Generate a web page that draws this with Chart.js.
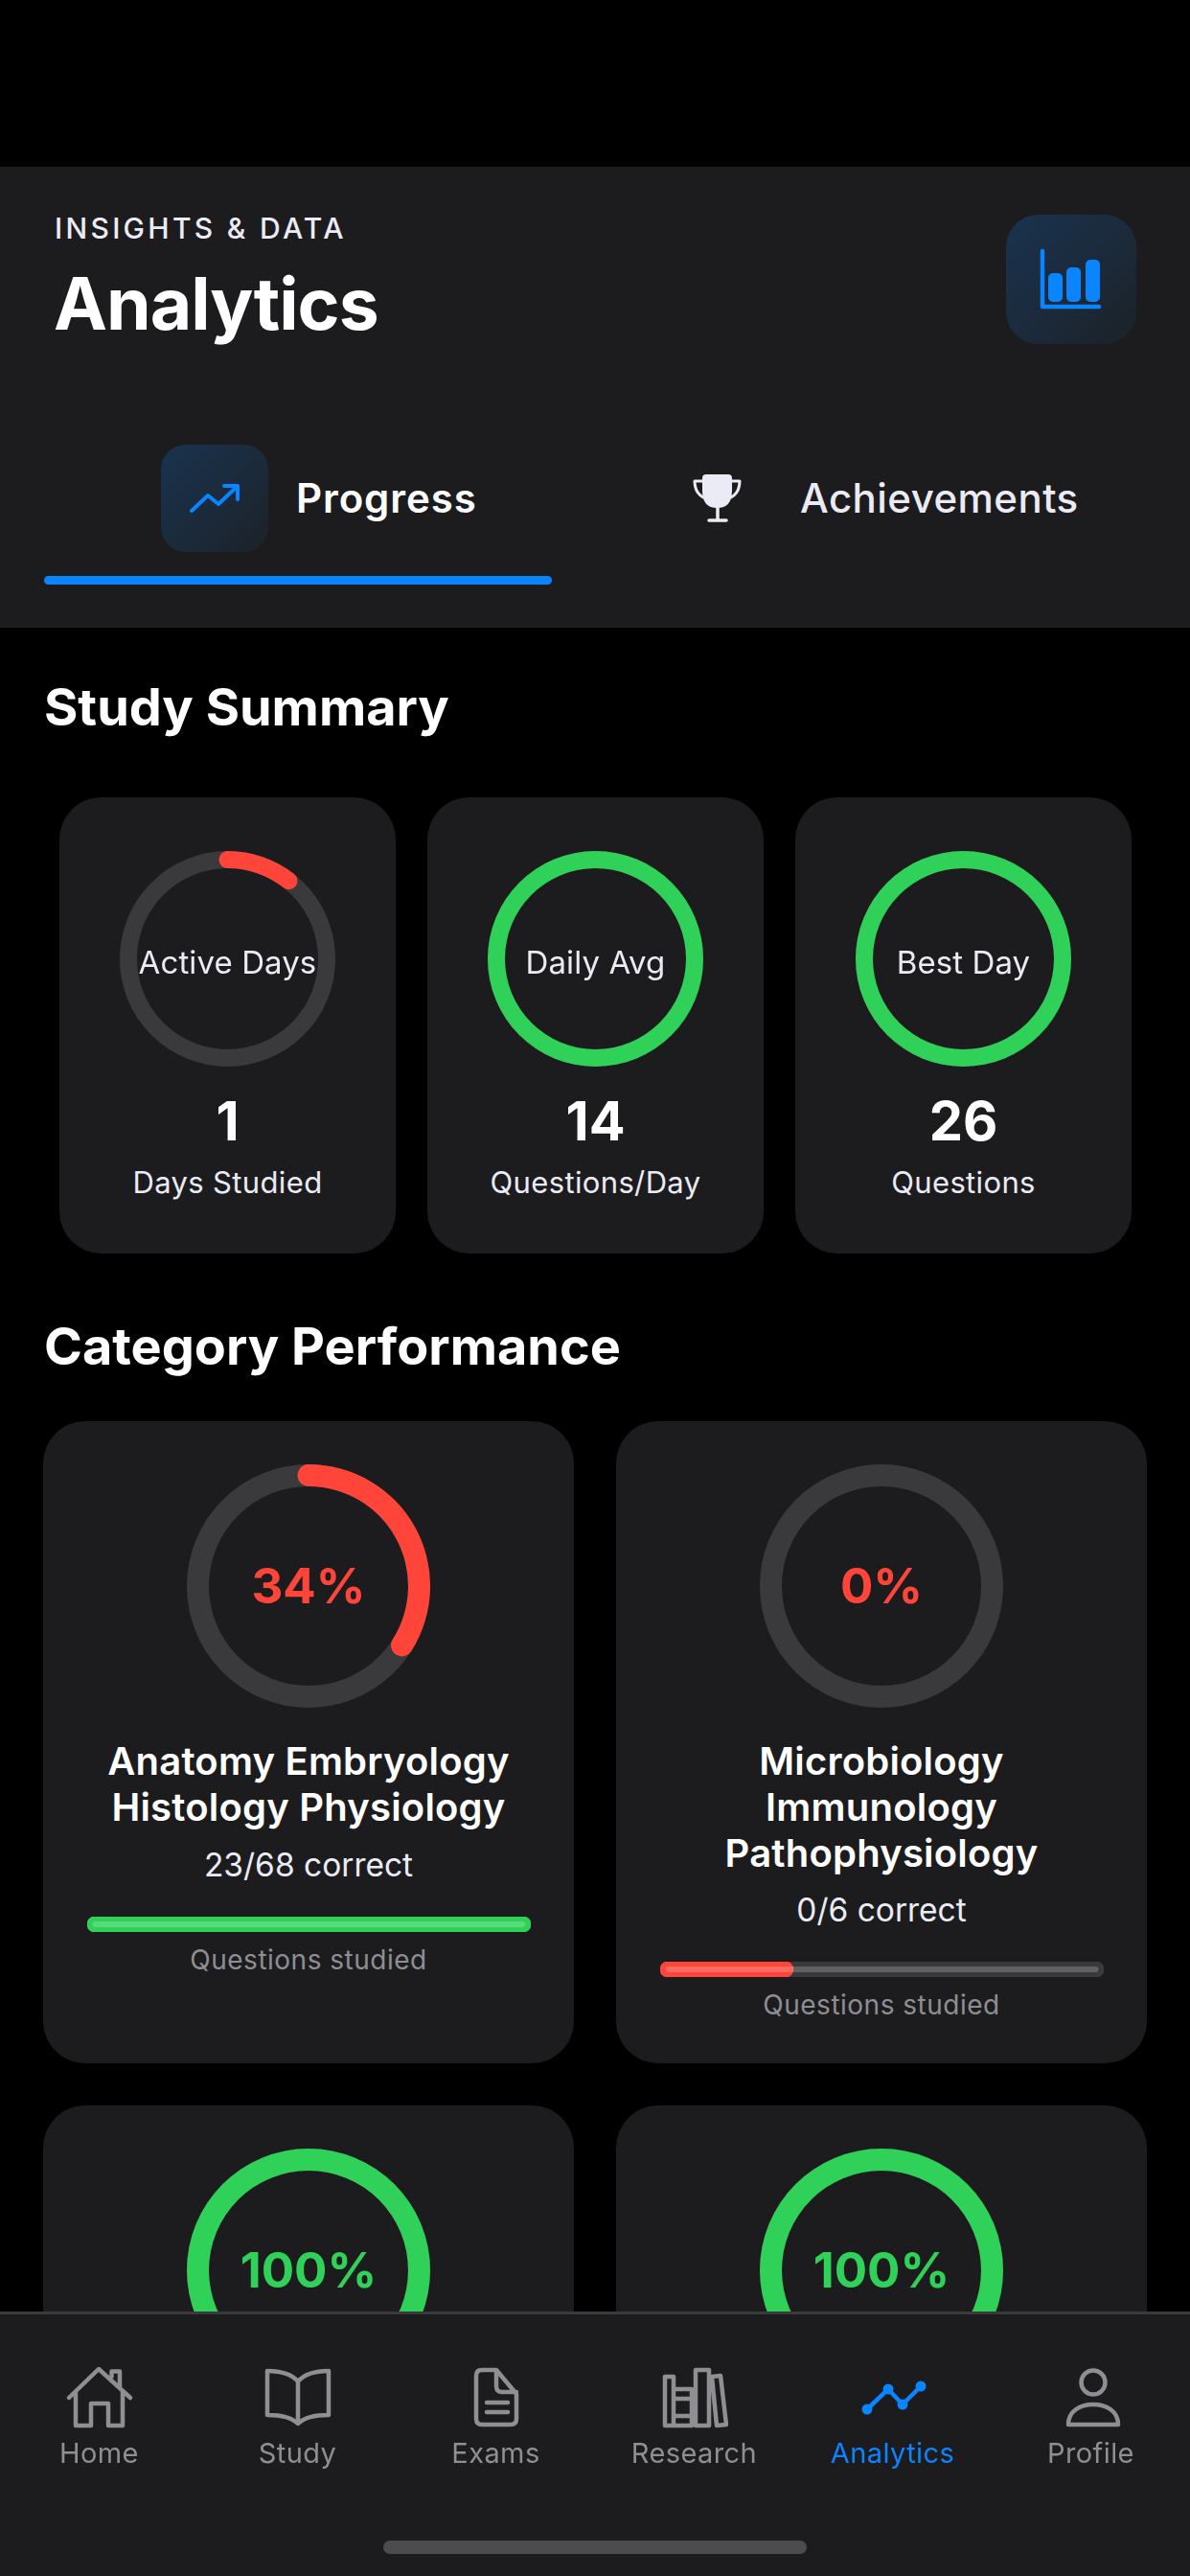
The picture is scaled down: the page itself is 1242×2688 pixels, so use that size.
<!DOCTYPE html>
<html>
<head>
<meta charset="utf-8">
<title>Analytics</title>
<script src="https://cdn.jsdelivr.net/npm/chart.js@4/dist/chart.umd.min.js"></script>
<style>
  html, body { margin: 0; padding: 0; background: #000; }
  body { position: relative; width: 1242px; height: 2688px; overflow: hidden; font-family: Inter, "Noto Sans", sans-serif; }
  .box { position: absolute; background: #1c1c1e; }
  .card { border-radius: 44px; }
  .iconbox { background: linear-gradient(135deg, #1a3350, #1c2228); }
  .t { position: absolute; white-space: nowrap; transform: translate(-50%, -50%); line-height: 1; z-index: 2; }
  .tl { transform: translate(0, -50%); }
  canvas { position: absolute; }
  svg { position: absolute; left: 0; top: 0; width: 1242px; height: 2688px; }
  #nav { position: absolute; left: 0; top: 2412px; width: 1242px; height: 276px; background: #1c1c1e; border-top: 3px solid #3a3a3c; box-sizing: border-box; z-index: 5; }
  #top { position: absolute; left: 0; top: 0; width: 1242px; height: 2688px; z-index: 6; pointer-events: none; }
  #top .t { z-index: 7; }
  .ln { fill: none; stroke-linecap: round; stroke-linejoin: round; }
</style>
</head>
<body>
<div class="box" style="left:0;top:174px;width:1242px;height:481px"></div>
<div class="box iconbox" style="left:1050px;top:224px;width:136px;height:135px;border-radius:34px"></div>
<div class="box iconbox" style="left:168px;top:464px;width:112px;height:112px;border-radius:26px"></div>
<div class="box" style="left:46px;top:601px;width:530px;height:9px;border-radius:5px;background:#0a84ff"></div>

<svg style="z-index:3">
  <path class="ln" d="M1088 262V320H1147" stroke="#0a84ff" stroke-width="4.5"/>
  <rect x="1094" y="285" width="15" height="30" rx="5" fill="#0a84ff"/>
  <rect x="1113" y="279" width="15" height="36" rx="5" fill="#0a84ff"/>
  <rect x="1133" y="271" width="15" height="44" rx="5" fill="#0a84ff"/>
  <path class="ln" d="M200 533L217 517L228 526L247 508M234 507H248V521" stroke="#0a84ff" stroke-width="4"/>
  <path d="M733 499q0-4 4-4h23q4 0 4 4v13q0 18-15.5 18t-15.5-18z" fill="#ebebf5"/>
  <path class="ln" d="M733 502h-8q0 12 9 17M764 502h8q0 12-9 17" stroke="#ebebf5" stroke-width="3"/>
  <path class="ln" d="M749 528V543M740 543H758" stroke="#ebebf5" stroke-width="3.5"/>
</svg>

<div id="nav"></div>
<div id="top">
  <div class="box" style="left:400px;top:2651px;width:442px;height:14px;border-radius:7px;background:#4c4c4e"></div>
  <svg>
    <g class="ln" stroke="#8e8e93" stroke-width="4.5">
      <path class="ln" d="M72 2502L103 2472L136 2502M79 2496V2531H95V2508H113V2531H128V2496M116.5 2480V2474.5H125V2491"/>
      <path class="ln" d="M311 2485C304 2477 292 2474 279 2474V2520C292 2520 304 2522 311 2529C318 2522 330 2520 343 2520V2474C330 2474 318 2477 311 2485V2529"/>
      <path class="ln" d="M503 2473H518L539 2498V2524q0 6-6 6H503q-6 0-6-6V2479q0-6 6-6zM518 2473V2490q0 6 6 6H539M508 2507H530M508 2517H530"/>
      <path class="ln" d="M694 2480H703V2531H694zM703 2493H722M703 2503H722M703 2521H722M703 2531H722M722 2493V2531M726 2473H740V2531H726zM743 2480L752 2479L758 2530L748 2531z"/>
      <circle cx="1141" cy="2486" r="12.5"/>
      <path class="ln" d="M1115 2530c0-14 12-21 26-21s26 7 26 21z"/>
    </g>
    <path class="ln" d="M905 2514L927 2493L942 2509L961 2490" stroke="#0a84ff" stroke-width="4.5"/>
    <g fill="#0a84ff">
      <circle cx="905" cy="2514" r="5.5"/><circle cx="927" cy="2493" r="5.5"/>
      <circle cx="942" cy="2509" r="5.5"/><circle cx="961" cy="2490" r="5.5"/>
    </g>
  </svg>
</div>

<script>
const RED = "#ff453a";
const GREEN = "#30d158";
const TRACK = "#3a3a3c";

// study summary
const summaryLabels = ["Active Days", "Daily Avg", "Best Day"];
const summaryRing = [10.6, 100, 100];
const summaryNumbers = ["1", "14", "26"];
const summaryUnits = ["Days Studied", "Questions/Day", "Questions"];

// category performance
const categoryPercent = [34, 0, 100, 100];
const categoryNames = [
  ["Anatomy Embryology", "Histology Physiology"],
  ["Microbiology", "Immunology", "Pathophysiology"]
];
const categoryCorrect = ["23/68 correct", "0/6 correct"];
const categoryStudied = [100, 30];

// bottom tabs
const navLabels = ["Home", "Study", "Exams", "Research", "Analytics", "Profile"];

function addText(str, x, y, size, weight, color, extra, parent) {
  const el = document.createElement("div");
  el.className = "t";
  el.textContent = str;
  el.style.cssText = `left:${x}px;top:${y}px;font-size:${size}px;font-weight:${weight};color:${color};${extra || ""}`;
  (parent || document.body).appendChild(el);
  return el;
}

function addBox(x, y, w, h) {
  const el = document.createElement("div");
  el.className = "box card";
  el.style.cssText = `left:${x}px;top:${y}px;width:${w}px;height:${h}px`;
  document.body.appendChild(el);
}

function addCanvas(x, y, w, h) {
  const c = document.createElement("canvas");
  c.width = w;
  c.height = h;
  c.style.cssText = `left:${x}px;top:${y}px;width:${w}px;height:${h}px;z-index:1`;
  document.body.appendChild(c);
  return c;
}

const trackPlugin = {
  id: "ringTrack",
  beforeDatasetsDraw(chart) {
    const m = chart.getDatasetMeta(0).controller;
    const { ctx, width, height } = chart;
    ctx.save();
    ctx.beginPath();
    ctx.arc(width / 2, height / 2, (m.outerRadius + m.innerRadius) / 2, 0, Math.PI * 2);
    ctx.lineWidth = m.outerRadius - m.innerRadius;
    ctx.strokeStyle = TRACK;
    ctx.stroke();
    ctx.restore();
  }
};

function drawRing(x, y, size, thick, value, color) {
  const canvas = addCanvas(x, y, size, size);
  // round ends stick out past the value by half the ring thickness
  const midR = (size - thick) / 2;
  const capDeg = value > 0 && value < 100 ? (thick / 2 / midR) * 180 / Math.PI : 0;
  const span = value * 3.6 + capDeg * 2;
  new Chart(canvas, {
    type: "doughnut",
    data: {
      labels: ["value", "rest"],
      datasets: [{
        data: [span, 360 - span],
        backgroundColor: [color, "rgba(0,0,0,0)"],
        borderWidth: 0,
        borderRadius: capDeg ? thick : 0
      }]
    },
    options: {
      responsive: false,
      animation: false,
      events: [],
      cutout: size / 2 - thick,
      rotation: -capDeg,
      plugins: { legend: { display: false }, tooltip: { enabled: false } }
    },
    plugins: [trackPlugin]
  });
}

function drawBar(x, y, w, h, value, color) {
  const canvas = addCanvas(x, y, w, h);
  new Chart(canvas, {
    type: "bar",
    data: {
      labels: ["studied"],
      datasets: [
        { data: [[1.2, 98.8]], backgroundColor: "rgba(255,255,255,0.2)", barPercentage: 0.36, borderRadius: 4, borderSkipped: false, order: 1 },
        { data: [value], backgroundColor: color, barPercentage: 1, borderRadius: h / 2, borderSkipped: false, order: 2 },
        { data: [100], backgroundColor: TRACK, barPercentage: 1, borderRadius: h / 2, borderSkipped: false, order: 3 }
      ]
    },
    options: {
      responsive: false,
      animation: false,
      events: [],
      indexAxis: "y",
      datasets: { bar: { grouped: false, categoryPercentage: 1 } },
      scales: {
        x: { display: false, min: 0, max: 100 },
        y: { display: false }
      },
      plugins: { legend: { display: false }, tooltip: { enabled: false } }
    }
  });
}

// header
addText("INSIGHTS & DATA", 57, 238, 30, 500, "#ebebf5", "letter-spacing:3.3px").classList.add("tl");
addText("Analytics", 56, 316, 75, 700, "#fff", "letter-spacing:-1px").classList.add("tl");
addText("Progress", 309, 520, 42, 600, "#fff", "letter-spacing:0.9px").classList.add("tl");
addText("Achievements", 835, 520, 42, 500, "#ebebf5", "letter-spacing:0.45px").classList.add("tl");

// section titles
addText("Study Summary", 46, 738, 54, 700, "#fff").classList.add("tl");
addText("Category Performance", 46, 1405, 54, 700, "#fff").classList.add("tl");

// summary cards
const summaryX = [62, 446, 830];
summaryLabels.forEach((label, i) => {
  const cx = summaryX[i] + 175.5;
  addBox(summaryX[i], 832, 351, 476);
  drawRing(cx - 112.5, 888, 225, 18, summaryRing[i], i === 0 ? RED : GREEN);
  addText(label, cx, 1004, 33, 400, "#ebebf5", "letter-spacing:0.1px");
  addText(summaryNumbers[i], cx, 1170, 56, 700, "#fff");
  addText(summaryUnits[i], cx, 1233, 31, 400, "#ebebf5", "letter-spacing:0.35px");
});

// category cards
const categoryX = [45, 643];
const categoryY = [1483, 2197];
categoryPercent.forEach((pct, i) => {
  const col = i % 2;
  const row = Math.floor(i / 2);
  const cx = categoryX[col] + 277;
  const top = categoryY[row];
  const color = pct >= 50 ? GREEN : RED;
  addBox(categoryX[col], top, 554, 670);
  drawRing(cx - 127, top + 45, 254, 23, pct, color);
  addText(pct + "%", cx, top + 171, 51, 700, color);

  if (!categoryNames[i]) return;
  categoryNames[i].forEach((line, k) => {
    addText(line, cx, top + 355 + k * 48, 40, 600, "#fff", "letter-spacing:0.2px");
  });
  const shift = (categoryNames[i].length - 2) * 47;
  addText(categoryCorrect[i], cx, top + 464 + shift, 33.5, 400, "#ebebf5");
  drawBar(cx - 231.5, top + 517 + shift, 463, 16, categoryStudied[i], categoryStudied[i] >= 50 ? GREEN : RED);
  addText("Questions studied", cx, top + 562 + shift, 28, 400, "#8e8e93", "letter-spacing:0.5px");
});

// nav labels sit above everything
navLabels.forEach((label, i) => {
  const color = label === "Analytics" ? "#0a84ff" : "#8e8e93";
  addText(label, 103.5 + i * 207, 2559, 29, 400, color, "letter-spacing:0.4px", document.getElementById("top"));
});
</script>
</body>
</html>
